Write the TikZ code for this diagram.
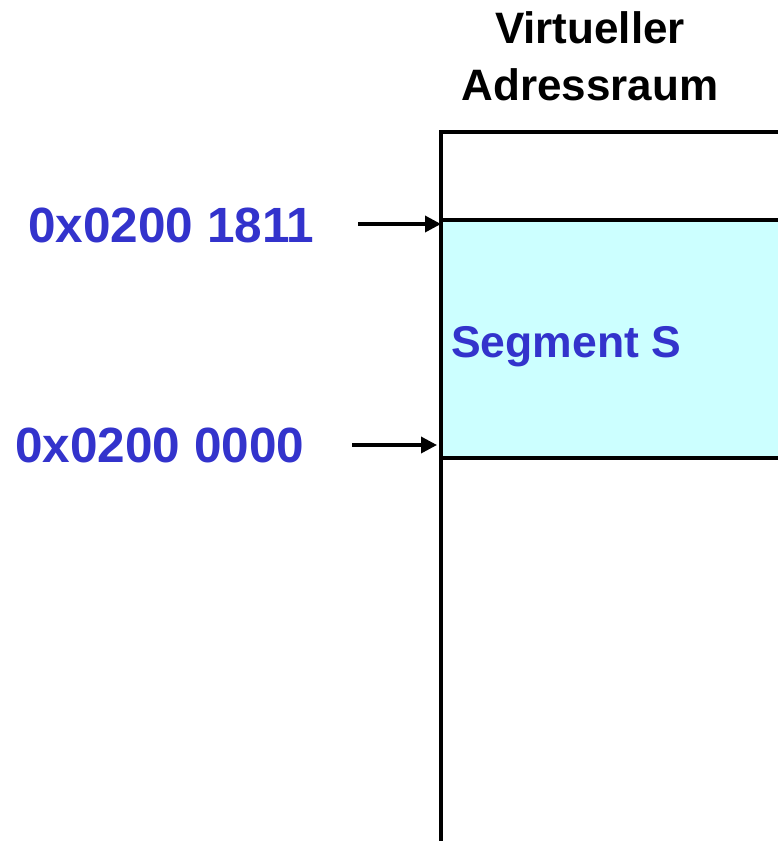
\documentclass[tikz,border=0pt]{standalone}
\usepackage{fontspec}
\setmainfont{Liberation Sans}
\usepackage{tikz}
\usetikzlibrary{arrows.meta}
\definecolor{addrblue}{RGB}{51,51,204}
\definecolor{segcyan}{RGB}{204,255,255}
\tikzstyle{arrow} = [line width=3.5pt,-{Triangle[length=16pt,width=16pt]}]
\tikzstyle{addr} = [inner sep=0pt,anchor=base west,text=addrblue,font=\fontsize{49.5}{60}\selectfont\bfseries]
\tikzstyle{heading} = [inner sep=0pt,align=center,font=\fontsize{44}{57}\selectfont\bfseries]

\begin{document}
\begin{tikzpicture}[x=1pt,y=-1pt]
\useasboundingbox (0,0) rectangle (778,841);
\clip (0,0) rectangle (778,841);

% address space
\node[heading,anchor=base] (title) at (590,100) {Virtueller\\Adressraum};
\draw[line width=3.5pt] (441,900) -- (441,132) -- (800,132);
\draw[line width=3.5pt,fill=segcyan] (800,220) -- (441,220) -- (441,458) -- (800,458);
\node[addr,font=\fontsize{44.5}{54}\selectfont\bfseries] (seg) at (451,357) {Segment S};

% addresses
\node[addr] (top) at (28,242) {0x0200 1811};
\node[addr] (bottom) at (15,462) {0x0200 0000};
\coordinate (topend) at (441,224);
\coordinate (bottomend) at (437,445);
\draw[arrow] (358,224) -- (topend);
\draw[arrow] (352,445) -- (bottomend);

\end{tikzpicture}
\end{document}
